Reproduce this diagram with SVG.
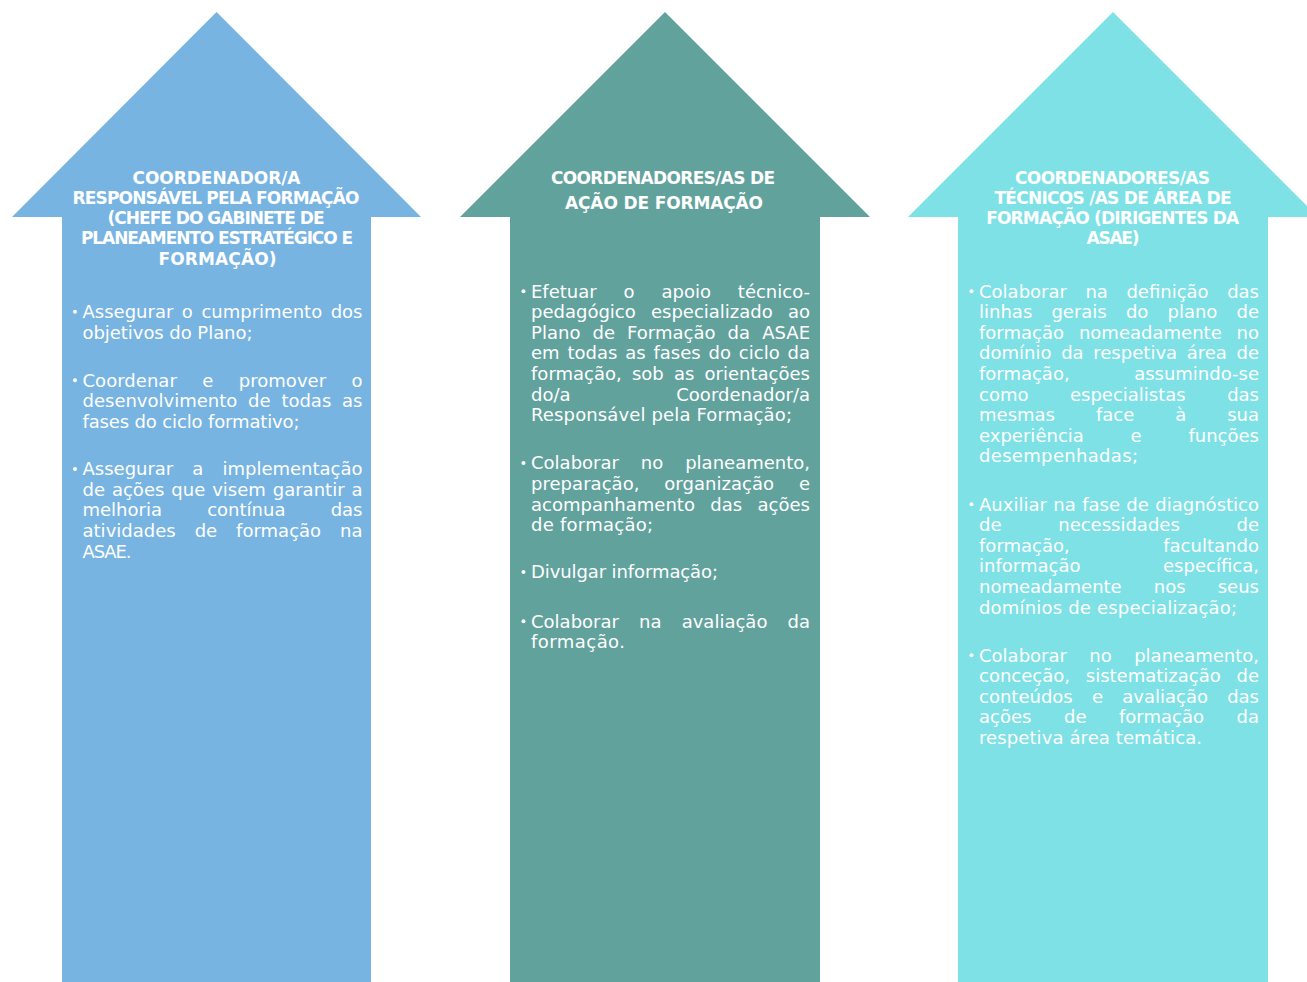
<svg xmlns="http://www.w3.org/2000/svg" width="1307" height="982" viewBox="0 0 1307 982">
<style>
.b{font-family:"DejaVu Sans","Liberation Sans",sans-serif;font-size:18px;fill:#ffffff}
.h{font-family:"DejaVu Sans","Liberation Sans",sans-serif;font-size:17px;font-weight:bold;fill:#ffffff;text-anchor:middle}
.d{fill:#ffffff}
</style>
<rect width="1307" height="982" fill="#ffffff"/>
<g id="col1">
<polygon points="216.5,12 421,217 371,217 371,982 62,982 62,217 12,217" fill="#77b4e2"/>
<text class="h" x="216.5" y="183.8" textLength="168" lengthAdjust="spacing">COORDENADOR/A</text>
<text class="h" x="216" y="204" textLength="287" lengthAdjust="spacing">RESPONSÁVEL PELA FORMAÇÃO</text>
<text class="h" x="216" y="224.2" textLength="217" lengthAdjust="spacing">(CHEFE DO GABINETE DE</text>
<text class="h" x="217" y="244.4" textLength="272" lengthAdjust="spacing">PLANEAMENTO ESTRATÉGICO E</text>
<text class="h" x="217.5" y="264.6" textLength="118" lengthAdjust="spacing">FORMAÇÃO)</text>
<circle class="d" cx="75" cy="311.7" r="2"/>
<circle class="d" cx="75" cy="380.3" r="2"/>
<circle class="d" cx="75" cy="468.9" r="2"/>
<text class="b" x="82.5" y="318" textLength="280" lengthAdjust="spacing" style="word-spacing:2.8px">Assegurar o cumprimento dos</text>
<text class="b" x="82.5" y="338.6" textLength="170" lengthAdjust="spacing">objetivos do Plano;</text>
<text class="b" x="82.5" y="386.6" textLength="280" lengthAdjust="spacing" style="word-spacing:19.6px">Coordenar e promover o</text>
<text class="b" x="82.5" y="407.2" textLength="280" lengthAdjust="spacing" style="word-spacing:5.1px">desenvolvimento de todas as</text>
<text class="b" x="82.5" y="427.8" textLength="217" lengthAdjust="spacing">fases do ciclo formativo;</text>
<text class="b" x="82.5" y="475.2" textLength="280" lengthAdjust="spacing" style="word-spacing:13.4px">Assegurar a implementação</text>
<text class="b" x="82.5" y="495.8" textLength="280" lengthAdjust="spacing" style="word-spacing:1.2px">de ações que visem garantir a</text>
<text class="b" x="82.5" y="516.4" textLength="280" lengthAdjust="spacing" style="word-spacing:39.5px">melhoria contínua das</text>
<text class="b" x="82.5" y="537" textLength="280" lengthAdjust="spacing" style="word-spacing:13.2px">atividades de formação na</text>
<text class="b" x="82.5" y="557.6" textLength="49" lengthAdjust="spacing">ASAE.</text>
</g>
<g id="col2">
<polygon points="665,12 870,217 820,217 820,982 510,982 510,217 460,217" fill="#62a29d"/>
<text class="h" x="663" y="183.8" textLength="224" lengthAdjust="spacing">COORDENADORES/AS DE</text>
<text class="h" x="664" y="209" textLength="198" lengthAdjust="spacing">AÇÃO DE FORMAÇÃO</text>
<circle class="d" cx="523.5" cy="291.3" r="2"/>
<circle class="d" cx="523.5" cy="463.1" r="2"/>
<circle class="d" cx="523.5" cy="572.1" r="2"/>
<circle class="d" cx="523.5" cy="621.3" r="2"/>
<text class="b" x="531" y="297.6" textLength="279" lengthAdjust="spacing" style="word-spacing:21.2px">Efetuar o apoio técnico-</text>
<text class="b" x="531" y="318.2" textLength="279" lengthAdjust="spacing" style="word-spacing:9.5px">pedagógico especializado ao</text>
<text class="b" x="531" y="338.8" textLength="279" lengthAdjust="spacing" style="word-spacing:6.3px">Plano de Formação da ASAE</text>
<text class="b" x="531" y="359.4" textLength="279" lengthAdjust="spacing" style="word-spacing:2.1px">em todas as fases do ciclo da</text>
<text class="b" x="531" y="380" textLength="279" lengthAdjust="spacing" style="word-spacing:4.4px">formação, sob as orientações</text>
<text class="b" x="531" y="400.6" textLength="279" lengthAdjust="spacing" style="word-spacing:99.9px">do/a Coordenador/a</text>
<text class="b" x="531" y="421.2" textLength="261" lengthAdjust="spacing">Responsável pela Formação;</text>
<text class="b" x="531" y="469.4" textLength="279" lengthAdjust="spacing" style="word-spacing:16.2px">Colaborar no planeamento,</text>
<text class="b" x="531" y="490" textLength="279" lengthAdjust="spacing" style="word-spacing:19.1px">preparação, organização e</text>
<text class="b" x="531" y="510.6" textLength="279" lengthAdjust="spacing" style="word-spacing:9.7px">acompanhamento das ações</text>
<text class="b" x="531" y="531.2" textLength="122" lengthAdjust="spacing">de formação;</text>
<text class="b" x="531" y="578.4" textLength="187" lengthAdjust="spacing">Divulgar informação;</text>
<text class="b" x="531" y="627.6" textLength="279" lengthAdjust="spacing" style="word-spacing:14.4px">Colaborar na avaliação da</text>
<text class="b" x="531" y="648.2" textLength="94" lengthAdjust="spacing">formação.</text>
</g>
<g id="col3">
<polygon points="1113,12 1318,217 1268,217 1268,982 958,982 958,217 908,217" fill="#7ee1e6"/>
<text class="h" x="1112.5" y="183.8" textLength="195" lengthAdjust="spacing">COORDENADORES/AS</text>
<text class="h" x="1113" y="204" textLength="237" lengthAdjust="spacing">TÉCNICOS /AS DE ÁREA DE</text>
<text class="h" x="1112.7" y="224.2" textLength="253" lengthAdjust="spacing">FORMAÇÃO (DIRIGENTES DA</text>
<text class="h" x="1113" y="244.4" textLength="53" lengthAdjust="spacing">ASAE)</text>
<circle class="d" cx="971.5" cy="291.3" r="2"/>
<circle class="d" cx="971.5" cy="504.3" r="2"/>
<circle class="d" cx="971.5" cy="655.3" r="2"/>
<text class="b" x="979" y="297.6" textLength="280" lengthAdjust="spacing" style="word-spacing:12.8px">Colaborar na definição das</text>
<text class="b" x="979" y="318.2" textLength="280" lengthAdjust="spacing" style="word-spacing:13.4px">linhas gerais do plano de</text>
<text class="b" x="979" y="338.8" textLength="280" lengthAdjust="spacing" style="word-spacing:9.1px">formação nomeadamente no</text>
<text class="b" x="979" y="359.4" textLength="280" lengthAdjust="spacing" style="word-spacing:3.8px">domínio da respetiva área de</text>
<text class="b" x="979" y="380" textLength="280" lengthAdjust="spacing" style="word-spacing:58.8px">formação, assumindo-se</text>
<text class="b" x="979" y="400.6" textLength="280" lengthAdjust="spacing" style="word-spacing:35.8px">como especialistas das</text>
<text class="b" x="979" y="421.2" textLength="280" lengthAdjust="spacing" style="word-spacing:35.2px">mesmas face à sua</text>
<text class="b" x="979" y="441.8" textLength="280" lengthAdjust="spacing" style="word-spacing:41px">experiência e funções</text>
<text class="b" x="979" y="462.4" textLength="159" lengthAdjust="spacing">desempenhadas;</text>
<text class="b" x="979" y="510.6" textLength="280" lengthAdjust="spacing" style="word-spacing:0.7px">Auxiliar na fase de diagnóstico</text>
<text class="b" x="979" y="531.2" textLength="280" lengthAdjust="spacing" style="word-spacing:51px">de necessidades de</text>
<text class="b" x="979" y="551.8" textLength="280" lengthAdjust="spacing" style="word-spacing:87.7px">formação, facultando</text>
<text class="b" x="979" y="572.4" textLength="280" lengthAdjust="spacing" style="word-spacing:76.8px">informação específica,</text>
<text class="b" x="979" y="593" textLength="280" lengthAdjust="spacing" style="word-spacing:26.4px">nomeadamente nos seus</text>
<text class="b" x="979" y="613.6" textLength="258" lengthAdjust="spacing">domínios de especialização;</text>
<text class="b" x="979" y="661.6" textLength="280" lengthAdjust="spacing" style="word-spacing:16.7px">Colaborar no planeamento,</text>
<text class="b" x="979" y="682.2" textLength="280" lengthAdjust="spacing" style="word-spacing:10.1px">conceção, sistematização de</text>
<text class="b" x="979" y="702.8" textLength="280" lengthAdjust="spacing" style="word-spacing:13.5px">conteúdos e avaliação das</text>
<text class="b" x="979" y="723.4" textLength="280" lengthAdjust="spacing" style="word-spacing:26.7px">ações de formação da</text>
<text class="b" x="979" y="744" textLength="223" lengthAdjust="spacing">respetiva área temática.</text>
</g>
<g id="connectors"/>
</svg>
